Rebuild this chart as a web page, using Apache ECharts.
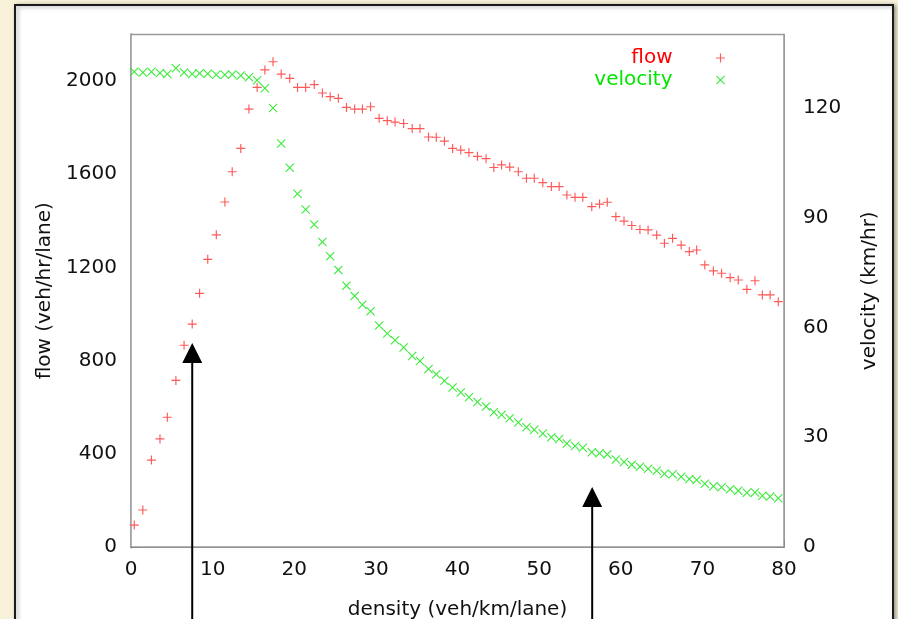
<!DOCTYPE html>
<html>
<head>
<meta charset="utf-8">
<script src="https://cdn.jsdelivr.net/npm/echarts@6/dist/echarts.min.js"></script>
<style>
html,body{margin:0;padding:0;background:#f7f1da;}
#chart{width:898px;height:619px;}
</style>
</head>
<body>
<div id="chart"></div>
<script>
// density (veh/km/lane) of each bin
const density = [0.4,1.45,2.5,3.55,4.45,5.5,6.5,7.5,8.4,9.4,
  10.45,11.5,12.4,13.45,14.45,15.45,16.4,17.4,18.4,19.45,
  20.4,21.4,22.45,23.45,24.4,25.4,26.4,27.4,28.35,29.35,
  30.4,31.4,32.35,33.4,34.45,35.4,36.45,37.4,38.4,39.4,
  40.4,41.4,42.45,43.5,44.45,45.4,46.4,47.45,48.45,49.4,
  50.45,51.5,52.45,53.4,54.4,55.35,56.45,57.4,58.35,59.4,
  60.4,61.35,62.35,63.35,64.4,65.35,66.35,67.4,68.4,69.3,
  70.3,71.35,72.35,73.4,74.4,75.45,76.45,77.35,78.3,79.3];
// flow (veh/hr/lane)
const flow = [94,159,373,464,557,715,866,957,1089,1235,
  1340,1481,1611,1711,1880,1973,2048,2083,2030,2012,
  1973,1973,1985,1949,1933,1926,1887,1880,1880,1890,
  1840,1830,1824,1818,1796,1796,1760,1759,1742,1711,
  1704,1693,1677,1667,1629,1640,1631,1611,1583,1583,
  1564,1547,1547,1511,1501,1501,1461,1472,1480,1418,
  1399,1380,1363,1361,1339,1304,1325,1296,1268,1275,
  1211,1185,1175,1156,1146,1106,1143,1082,1082,1053];
// velocity (km/hr)
const velocity = [129.8,129.6,129.8,129.5,129.2,130.8,129.6,129.2,129.4,129.3,
  129.0,129.0,129.1,128.8,128.3,127.5,125.3,119.9,110.2,103.6,
  96.5,92.2,88.1,83.3,79.4,75.7,71.4,68.6,66.2,64.4,
  60.5,58.3,56.5,54.5,52.2,50.8,48.6,47.2,45.4,43.6,
  42.2,40.9,39.6,38.4,36.8,36.1,35.2,34.0,32.7,32.0,
  31.0,30.0,29.5,28.3,27.6,27.1,25.9,25.6,25.3,23.9,
  23.2,22.5,21.9,21.4,20.8,20.0,19.9,19.2,18.6,18.3,
  17.3,16.6,16.3,15.8,15.4,14.8,14.9,14.0,13.8,13.3];
const xTicks = [0,10,20,30,40,50,60,70,80];
const flowTicks = [0,400,800,1200,1600,2000];
const velTicks = [0,30,60,90,120];
// annotation arrows: density position and tip (flow units)
const arrowDensity = [7.5, 56.5];
const arrowTipFlow = [876, 258];

const FONT = 'DejaVu Sans';
const plusPath = 'path://M4.35,0H5.65V4.35H10V5.65H5.65V10H4.35V5.65H0V4.35H4.35Z';
const crossPath = 'path://M0,0.85L0.85,0L5,4.15L9.15,0L10,0.85L5.85,5L10,9.15L9.15,10L5,5.85L0.85,10L0,9.15L4.15,5Z';

const chart = echarts.init(document.getElementById('chart'), null, {renderer:'canvas'});
const flowData = density.map((d,i)=>[d, flow[i]]);
const velData = density.map((d,i)=>[d, velocity[i]]);

const labelStyle = {fontFamily: FONT, fontSize: 20, color: '#111'};
const plain = v => String(v);

chart.setOption({
  backgroundColor: '#f7f1da',
  animation: false,
  grid: {left:131, right:114, top:34.5, bottom:72, show:true, borderColor:'#9a9a9a', borderWidth:1.5, backgroundColor:'#ffffff', z:1, outerBoundsMode:'none', containLabel:false},
  legend: {
    orient:'vertical', right:168, top:43, itemGap:2, align:'right',
    itemWidth:86, itemHeight:9, symbolKeepAspect:true,
    textStyle:{fontFamily:FONT, fontSize:20},
    data:[{name:'flow', textStyle:{color:'#ff0000'}},{name:'velocity', textStyle:{color:'#00e600'}}]
  },
  xAxis: {
    type:'value', min:0, max:80, interval:10,
    name:'density (veh/km/lane)', nameLocation:'middle', nameGap:53,
    nameTextStyle:labelStyle,
    axisLine:{show:true, lineStyle:{color:'#555', width:1.5}},
    axisTick:{show:true, inside:true, length:7, lineStyle:{color:'#555'}, customValues: xTicks},
    axisLabel:{margin:13, ...labelStyle, formatter: plain, customValues: xTicks},
    splitLine:{show:false}
  },
  yAxis: [{
    type:'value', min:0, max:2200, position:'left',
    name:'flow (veh/hr/lane)', nameLocation:'middle', nameGap:72,
    nameTextStyle:labelStyle,
    axisLine:{show:true, lineStyle:{color:'#b8b8b8', width:3}},
    axisTick:{show:true, inside:true, length:8, lineStyle:{color:'#555'}, customValues: flowTicks},
    axisLabel:{margin:14, ...labelStyle, formatter: plain, customValues: flowTicks},
    splitLine:{show:false}
  },{
    type:'value', min:0, max:140, position:'right',
    name:'velocity (km/hr)', nameLocation:'middle', nameGap:76, nameRotate:90,
    nameTextStyle:labelStyle,
    axisLine:{show:true, lineStyle:{color:'#888', width:1.5}},
    axisTick:{show:true, inside:true, length:8, lineStyle:{color:'#555'}, customValues: velTicks},
    axisLabel:{margin:19, ...labelStyle, formatter: plain, customValues: velTicks},
    splitLine:{show:false}
  }],
  series: [{
    name:'flow', type:'scatter', yAxisIndex:0, data:flowData,
    symbol:plusPath, symbolSize:9, symbolKeepAspect:true,
    itemStyle:{color:'#ff5a5a', opacity:1}, z:3
  },{
    name:'velocity', type:'scatter', yAxisIndex:1, data:velData,
    symbol:crossPath, symbolSize:9, symbolKeepAspect:true,
    itemStyle:{color:'#3aea3a', opacity:1}, z:3
  }]
});

// annotation arrows and page frame
const H = 619;
const graphics = [{
  type:'rect', z:-10, silent:true,
  shape:{x:15, y:5, width:878, height:630},
  style:{fill:'#ffffff', stroke:'#1a1a1a', lineWidth:2, shadowColor:'rgba(0,0,0,0.35)', shadowBlur:4, shadowOffsetX:2, shadowOffsetY:1}
}];
arrowDensity.forEach((d,i)=>{
  const p = chart.convertToPixel({xAxisIndex:0, yAxisIndex:0}, [d, arrowTipFlow[i]]);
  const hw = 10, hh = 20;
  graphics.push({type:'line', z:50, silent:true, shape:{x1:p[0], y1:H+5, x2:p[0], y2:p[1]+hh-2}, style:{stroke:'#000', lineWidth:2}});
  graphics.push({type:'polygon', z:50, silent:true, shape:{points:[[p[0],p[1]],[p[0]-hw,p[1]+hh],[p[0]+hw,p[1]+hh]]}, style:{fill:'#000'}});
});
chart.setOption({graphic: graphics});
</script>
</body>
</html>
